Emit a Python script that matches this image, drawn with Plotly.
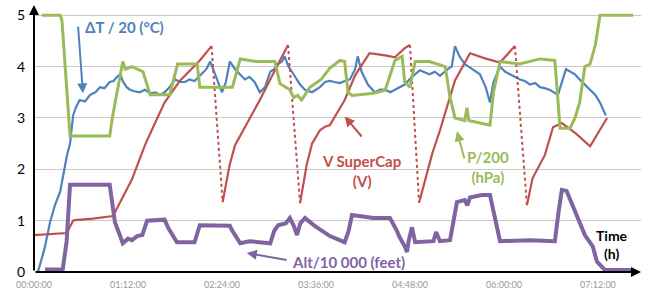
import plotly.graph_objects as go

# ---- data (time in minutes since start) ----
tick_vals = [0, 72, 144, 216, 288, 360, 432]
tick_text = ["00:00:00", "01:12:00", "02:24:00", "03:36:00", "04:48:00", "06:00:00", "07:12:00"]
y_ticks = [0, 1, 2, 3, 4, 5]

dT_t = [3, 8, 12.3, 16, 20, 25.3, 27.6, 30, 32, 35, 39, 43, 47, 50.6, 54, 58, 61, 63.6, 66, 68, 71,
        73.5, 77, 81, 85, 89, 93, 96.5, 100, 104, 108, 112, 115.7, 119, 123, 126, 129.5, 132, 135,
        138.6, 141, 144, 147, 150, 154, 158, 161.6, 165, 169, 173, 177, 181, 184, 187, 190, 192,
        195, 197.6, 201, 203.8, 207.6, 213, 216, 219, 223, 226.7, 230, 234.4, 238, 242, 246, 248,
        251, 255.8, 261, 265, 269, 273, 276.5, 280, 284, 289.5, 295.7, 300, 303, 307, 311, 317,
        320, 322.5, 324, 326, 330, 335.5, 341.6, 346, 349.3, 352, 357, 361, 364.6, 368, 372.3, 376,
        380, 384, 387.6, 391, 395, 401.4, 404.4, 407.5, 411, 414.4, 418, 422, 426, 430, 433.6, 438]
dT_v = [0, 0.45, 0.97, 1.3, 1.56, 2.28, 2.5, 3.05, 3.2, 3.35, 3.32, 3.45, 3.5, 3.6, 3.58, 3.7, 3.72,
        3.8, 3.85, 3.72, 3.6, 3.55, 3.52, 3.5, 3.55, 3.48, 3.5, 3.45, 3.5, 3.6, 3.75, 3.7, 3.7, 3.75,
        3.72, 3.8, 3.9, 3.95, 4.1, 3.85, 3.7, 3.5, 3.7, 4.1, 3.95, 3.85, 3.75, 3.8, 3.7, 3.5, 3.6,
        3.9, 3.95, 4.05, 4.1, 4.2, 4.0, 3.9, 3.75, 3.65, 3.55, 3.5, 3.55, 3.6, 3.7, 3.72, 3.7, 3.68,
        3.72, 3.75, 3.95, 4.2, 3.9, 3.65, 3.5, 3.55, 3.55, 3.5, 3.55, 3.6, 3.65, 3.8, 3.93, 3.88,
        3.85, 3.9, 3.82, 3.95, 4.0, 4.4, 4.3, 4.2, 4.05, 3.95, 3.85, 3.6, 3.3, 3.7, 4.0, 3.9, 3.85,
        3.8, 3.75, 3.72, 3.65, 3.68, 3.6, 3.58, 3.55, 3.45, 3.7, 3.95, 3.9, 3.85, 3.75, 3.65, 3.55,
        3.45, 3.3, 3.05]

cap_t = [0, 25, 30, 31.4, 45, 60.5, 75, 85, 90, 100, 112, 127, 136,
         144.5, 150, 154, 173, 188, 194.6,
         203.8, 209, 213, 219, 223, 226.7, 238, 246, 257, 269, 276.5, 284, 288,
         295, 305, 311, 322.5, 334, 345.5, 357, 368.4,
         377.6, 382, 391.4, 397.6, 404.4, 415, 426, 439]
cap_v = [0.72, 0.76, 1.0, 1.01, 1.04, 1.09, 1.8, 2.47, 2.75, 3.3, 3.73, 4.12, 4.4,
         1.36, 2.1, 2.47, 3.35, 4.1, 4.42,
         1.34, 2.1, 2.5, 2.76, 2.83, 2.86, 3.35, 3.83, 4.26, 4.22, 4.18, 4.36, 4.42,
         1.35, 2.3, 2.76, 3.73, 4.26, 4.16, 4.08, 4.4,
         1.3, 1.83, 2.28, 2.82, 2.9, 2.7, 2.45, 3.0]

p_t = [6, 20, 21.4, 27.6, 58, 60, 68, 70, 75, 80, 83.5, 89, 104, 110, 125, 127, 152, 158, 170,
       184.6, 188.4, 196, 199, 202, 205, 211.4, 220, 226.7, 234.4, 238, 240.5, 243.6, 260, 269,
       276.5, 282, 284, 288, 292, 303, 315, 318.7, 322.5, 330, 331.7, 333, 341.6, 349.3, 352, 357,
       372, 387.6, 399, 401.4, 403, 410.6, 414.4, 418, 422, 426, 430, 433.6, 459]
p_v = [5.0, 5.0, 4.9, 2.65, 2.65, 3.0, 4.1, 3.95, 4.0, 3.95, 3.9, 3.45, 3.45, 4.05, 4.05, 3.6,
       3.6, 4.15, 4.1, 4.1, 3.67, 3.55, 3.4, 3.44, 3.35, 3.6, 3.75, 3.97, 4.12, 4.1, 3.5, 3.44,
       3.48, 3.54, 4.12, 4.2, 3.7, 3.6, 4.1, 4.1, 4.0, 3.4, 3.0, 2.95, 3.2, 2.95, 2.9, 2.86, 3.5,
       4.1, 4.05, 4.15, 4.12, 3.2, 2.8, 2.8, 3.0, 3.3, 4.0, 4.05, 4.42, 5.0, 5.0]

alt_t = [8.4, 22, 25, 27.6, 58, 62, 66, 68, 72, 75, 79, 83, 86.6, 100, 103, 109.5, 123, 127, 150,
         152, 158, 165, 181, 184, 187, 193, 196, 199, 201.5, 204, 207.6, 215, 226.7, 238, 241,
         243.6, 260, 272.7, 278, 280, 284, 285.7, 287, 289.5, 292, 306, 308, 311, 318.7, 322,
         324, 330, 332, 334, 343, 349.3, 357, 380, 399, 402, 404.4, 408, 412, 418, 422, 428,
         431.3, 437.4, 459]
alt_v = [0.05, 0.05, 0.6, 1.7, 1.7, 0.97, 0.7, 0.56, 0.65, 0.62, 0.7, 0.72, 1.0, 1.02, 0.85,
         0.58, 0.58, 0.91, 0.9, 0.8, 0.56, 0.6, 0.56, 0.8, 0.91, 0.95, 1.05, 0.9, 0.72, 0.95,
         1.05, 0.9, 0.7, 0.58, 0.8, 1.11, 1.05, 1.05, 0.8, 0.68, 0.5, 0.39, 0.6, 0.87, 0.58,
         0.6, 0.78, 0.6, 0.62, 1.1, 1.36, 1.4, 1.3, 1.45, 1.5, 1.5, 0.6, 0.62, 0.6, 1.2, 1.6,
         1.58, 1.34, 1.0, 0.72, 0.5, 0.2, 0.04, 0.04]

BLUE = "#4F81BD"
RED = "#C0504D"
GREEN = "#9BBB59"
PURPLE = "#8064A2"

# split capacitor series into charge (solid) and discharge (dotted) parts
cap_sol_t, cap_sol_v, cap_drop_t, cap_drop_v = [], [], [], []
for i in range(len(cap_t)):
    if i > 0 and cap_v[i] < cap_v[i - 1] - 1:
        cap_sol_t.append(None); cap_sol_v.append(None)
        cap_drop_t += [cap_t[i - 1], cap_t[i], None]
        cap_drop_v += [cap_v[i - 1], cap_v[i], None]
    cap_sol_t.append(cap_t[i]); cap_sol_v.append(cap_v[i])

fig = go.Figure()
fig.add_trace(go.Scatter(x=dT_t, y=dT_v, mode="lines", line=dict(color=BLUE, width=2.2)))
fig.add_trace(go.Scatter(x=cap_drop_t, y=cap_drop_v, mode="lines",
                         line=dict(color=RED, width=2, dash="dot")))
fig.add_trace(go.Scatter(x=cap_sol_t, y=cap_sol_v, mode="lines", line=dict(color=RED, width=2.2)))
fig.add_trace(go.Scatter(x=p_t, y=p_v, mode="lines", line=dict(color=GREEN, width=3)))
fig.add_trace(go.Scatter(x=alt_t, y=alt_v, mode="lines", line=dict(color=PURPLE, width=4)))

FONT = "Lato"
ann = []
def label(x, y, text, color, size=15):
    ann.append(dict(x=x, y=y, xref="x", yref="y", text=text, showarrow=False,
                    font=dict(family=FONT, size=size, color=color), align="center"))
def arrow(x0, y0, x1, y1, color):
    ann.append(dict(x=x1, y=y1, ax=x0, ay=y0, xref="x", yref="y", axref="x", ayref="y",
                    text="", showarrow=True, arrowhead=2, arrowsize=1, arrowwidth=2,
                    arrowcolor=color))

label(69, 4.77, "<b>ΔT / 20 (°C)</b>", BLUE)
label(251, 1.96, "<b>V SuperCap<br>(V)</b>", RED)
label(347.8, 2.04, "<b>P/200<br>(hPa)</b>", GREEN)
label(241, 0.19, "<b>Alt/10 000 (feet)</b>", PURPLE)
label(442.7, 0.54, "<b>Time<br>(h)</b>", "black", 14)
arrow(33.7, 4.81, 37.5, 3.48, BLUE)
arrow(252, 2.61, 238, 3.03, RED)
arrow(330, 2.18, 324, 2.74, GREEN)
arrow(194.6, 0.23, 163, 0.37, PURPLE)
# axis arrows
arrow(0, 0, 465, 0, "black")
arrow(0, 0, 0, 5.2, "black")

fig.update_layout(
    width=646, height=289,
    margin=dict(l=34, r=5, t=5, b=17, autoexpand=False),
    paper_bgcolor="white", plot_bgcolor="white",
    showlegend=False,
    annotations=ann,
    xaxis=dict(range=[0, 465], tickvals=tick_vals, ticktext=tick_text, showgrid=False,
               zeroline=False, showline=False, ticks="", automargin=False,
               tickfont=dict(family=FONT, size=9, color="#999999"), ticklabelstandoff=6),
    yaxis=dict(range=[0, 5.2], tickvals=y_ticks, showgrid=True, gridcolor="#C8C8C8",
               gridwidth=1, zeroline=False, showline=False, ticks="", automargin=False,
               tickfont=dict(family=FONT, size=14, color="black"), ticklabelstandoff=8),
)
fig.update_yaxes(tickprefix="<b>", ticksuffix="</b>")
fig.write_html("out.html", config={"displayModeBar": False},
               post_script="document.body.style.margin='0';document.body.style.overflow='hidden';")
